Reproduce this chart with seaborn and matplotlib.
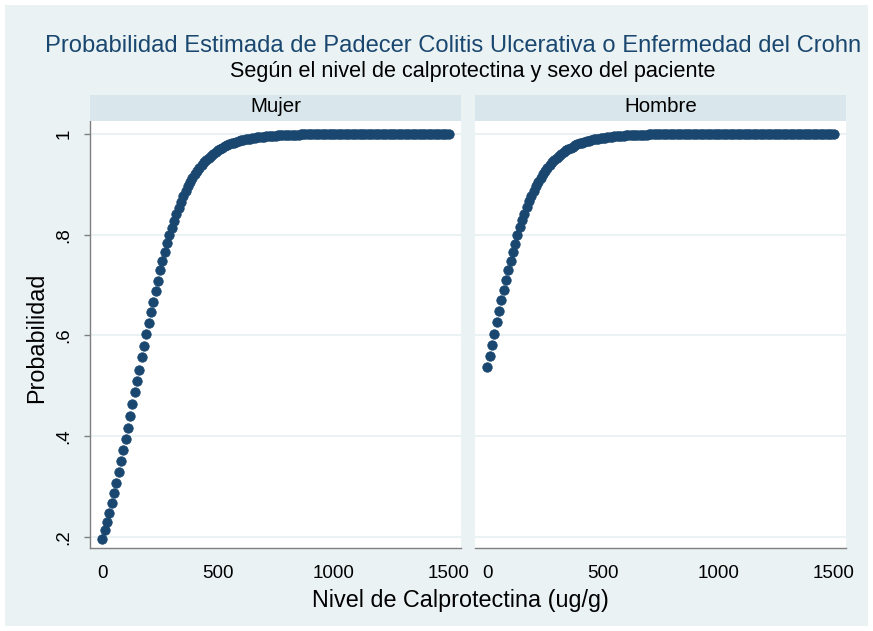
import matplotlib
matplotlib.use("Agg")
import matplotlib.pyplot as plt
import seaborn as sns
import pandas as pd
from matplotlib.patches import Rectangle

# ---------------- data ----------------
calpro = list(range(0, 1501, 10))

p_mujer = [
    0.195, 0.213, 0.230, 0.248, 0.268, 0.287, 0.307, 0.328, 0.351, 0.373,
    0.395, 0.417, 0.440, 0.464, 0.487, 0.510, 0.532, 0.557, 0.580, 0.602,
    0.624, 0.646, 0.667, 0.688, 0.709, 0.729, 0.747, 0.766, 0.783, 0.800,
    0.814, 0.828, 0.841, 0.854, 0.865, 0.876, 0.886, 0.896, 0.904, 0.912,
    0.920, 0.927, 0.933, 0.939, 0.944, 0.949, 0.953, 0.957, 0.961, 0.965,
    0.968, 0.971, 0.973, 0.976, 0.978, 0.980, 0.982, 0.983, 0.985, 0.986,
    0.988, 0.989, 0.990, 0.991, 0.991, 0.992, 0.993, 0.994, 0.994, 0.995,
    0.995, 0.9956, 0.9960, 0.9964, 0.9967, 0.9970, 0.9973, 0.9975, 0.9978, 0.9980,
    0.9982, 0.9983, 0.9985, 0.9986, 0.9987, 0.9989, 0.9990, 0.9991, 0.9991, 0.9992,
    0.9993, 0.9994, 0.9994, 0.9995, 0.9995, 0.9996, 0.9996, 0.9997, 0.9997, 0.9997,
    0.9997, 0.9998, 0.9998, 0.9998, 0.9998, 0.9998, 0.9998, 0.9998, 0.9998, 0.9998,
    0.9999, 0.9999, 0.9999, 0.9999, 0.9999, 0.9999, 0.9999, 0.9999, 0.9999, 0.9999,
    1.0, 1.0, 1.0, 1.0, 1.0, 1.0, 1.0, 1.0, 1.0, 1.0,
    1.0, 1.0, 1.0, 1.0, 1.0, 1.0, 1.0, 1.0, 1.0, 1.0,
    1.0, 1.0, 1.0, 1.0, 1.0, 1.0, 1.0, 1.0, 1.0, 1.0,
    1.0,
]

p_hombre = [
    0.537, 0.559, 0.582, 0.603, 0.626, 0.649, 0.670, 0.690, 0.710, 0.729,
    0.747, 0.766, 0.782, 0.800, 0.815, 0.829, 0.842, 0.855, 0.866, 0.877,
    0.887, 0.896, 0.905, 0.913, 0.920, 0.927, 0.933, 0.939, 0.944, 0.949,
    0.953, 0.957, 0.961, 0.964, 0.968, 0.970, 0.973, 0.975, 0.978, 0.980,
    0.982, 0.983, 0.985, 0.986, 0.987, 0.988, 0.990, 0.990, 0.991, 0.992,
    0.993, 0.993, 0.994, 0.995, 0.995, 0.9955, 0.9959, 0.9963, 0.9966, 0.9969,
    0.9972, 0.9975, 0.9977, 0.9979, 0.9981, 0.9983, 0.9985, 0.9986, 0.9987, 0.9988,
    0.9990, 0.9991, 0.9991, 0.9992, 0.9993, 0.9994, 0.9994, 0.9995, 0.9995, 0.9996,
    0.9996, 0.9997, 0.9997, 0.9997, 0.9997, 0.9998, 0.9998, 0.9998, 0.9998, 0.9998,
    0.9998, 0.9999, 0.9999, 0.9999, 0.9999, 0.9999, 0.9999, 0.9999, 0.9999, 0.9999,
    0.9999, 1.0, 1.0, 1.0, 1.0, 1.0, 1.0, 1.0, 1.0, 1.0,
    1.0, 1.0, 1.0, 1.0, 1.0, 1.0, 1.0, 1.0, 1.0, 1.0,
    1.0, 1.0, 1.0, 1.0, 1.0, 1.0, 1.0, 1.0, 1.0, 1.0,
    1.0, 1.0, 1.0, 1.0, 1.0, 1.0, 1.0, 1.0, 1.0, 1.0,
    1.0, 1.0, 1.0, 1.0, 1.0, 1.0, 1.0, 1.0, 1.0, 1.0,
    1.0,
]

panels = ["Mujer", "Hombre"]
title = "Probabilidad Estimada de Padecer Colitis Ulcerativa o Enfermedad del Crohn"
subtitle = "Según el nivel de calprotectina y sexo del paciente"
xlabel = "Nivel de Calprotectina (ug/g)"
ylabel = "Probabilidad"
xticks = [0, 500, 1000, 1500]
xticklabels = ["0", "500", "1000", "1500"]
yticks = [0.2, 0.4, 0.6, 0.8, 1.0]
yticklabels = [".2", ".4", ".6", ".8", "1"]

df = pd.DataFrame({
    "calpro": calpro * 2,
    "prob": p_mujer + p_hombre,
    "sexo": ["Mujer"] * len(calpro) + ["Hombre"] * len(calpro),
})

# ---------------- style ----------------
sns.set_style("white")
plt.rcParams["font.family"] = ["Liberation Sans", "DejaVu Sans"]

BG = "#EAF2F3"
STRIP = "#D9E6EB"
NAVY = "#1a476f"
AXC = "#7f7f7f"

W, H = 873, 631
fig = plt.figure(figsize=(W / 100, H / 100), dpi=100)
fig.patch.set_facecolor("white")
fig.add_artist(Rectangle((5 / W, 5 / H), (W - 10) / W, (H - 10) / H,
                         transform=fig.transFigure, facecolor=BG,
                         edgecolor="none", zorder=-10))

def fx(px):
    return px / W

def fy(py):
    return 1 - py / H

panel_x = [(90, 461), (475, 846)]
top, bottom = 121, 548

for i, (name, (x0, x1)) in enumerate(zip(panels, panel_x)):
    ax = fig.add_axes([fx(x0), fy(bottom), fx(x1 - x0), (bottom - top) / H])
    ax.set_facecolor("white")
    sub = df[df["sexo"] == name]
    sns.scatterplot(data=sub, x="calpro", y="prob", ax=ax, color=NAVY,
                    s=46, linewidth=0.6, edgecolor=NAVY, legend=False, zorder=3)
    ax.set_xlim(-54, 1554)
    ax.set_ylim(0.178, 1.0258)
    ax.set_yticks(yticks)
    for yv in yticks:
        ax.axhline(yv, color=BG, lw=1.5, zorder=1)
    ax.set_xticks(xticks)
    ax.set_xticklabels(xticklabels, fontsize=13.5)
    ax.set_xlabel("")
    ax.set_ylabel("")
    for s in ["top", "right"]:
        ax.spines[s].set_visible(False)
    ax.spines["bottom"].set_color(AXC)
    ax.spines["bottom"].set_linewidth(1.0)
    ax.tick_params(axis="x", direction="out", length=4.5, width=1.0,
                   color=AXC, pad=8, labelcolor="black")
    if i == 0:
        ax.spines["left"].set_color(AXC)
        ax.spines["left"].set_linewidth(1.0)
        ax.set_yticklabels(yticklabels, fontsize=13.5, rotation=90, va="center")
        ax.tick_params(axis="y", direction="out", length=4.5, width=1.0,
                       color=AXC, pad=8, labelcolor="black", left=True)
    else:
        ax.spines["left"].set_visible(False)
        ax.set_yticklabels([])
        ax.tick_params(axis="y", left=False, length=0)
    # strip
    fig.add_artist(Rectangle((fx(x0), fy(top)), fx(x1 - x0), 26 / H,
                             transform=fig.transFigure, facecolor=STRIP,
                             edgecolor="none"))
    fig.text(fx((x0 + x1) / 2), fy(107), name, ha="center", va="center",
             fontsize=14.8, color="black")

fig.text(fx(45), fy(46), title, ha="left", va="center", fontsize=17.1, color=NAVY)
fig.text(fx(473), fy(72), subtitle, ha="center", va="center", fontsize=15.6, color="black")
fig.text(fx(460), fy(600), xlabel, ha="center", va="center", fontsize=16.8, color="black")
fig.text(fx(37), fy(338), ylabel, ha="center", va="center", rotation=90,
         fontsize=16.8, color="black")

fig.savefig("out.png", dpi=100, facecolor=fig.get_facecolor())
